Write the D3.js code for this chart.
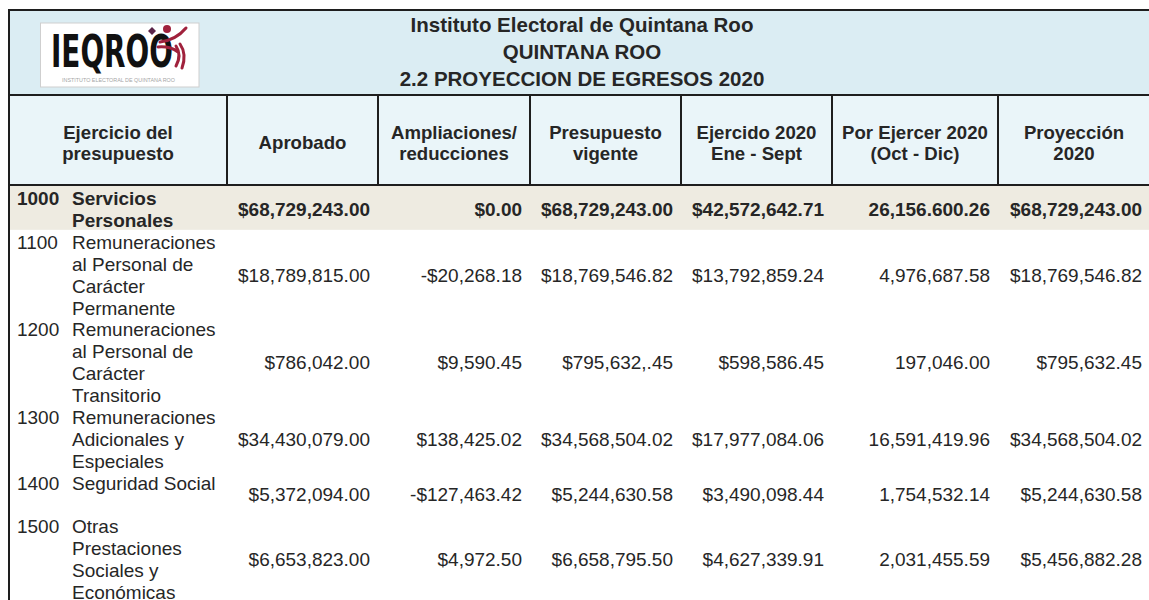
<!DOCTYPE html>
<html>
<head>
<meta charset="utf-8">
<script src="https://cdn.jsdelivr.net/npm/d3@7"></script>
<style>
  body { margin: 0; background: #fff; }
  svg { display: block; font-family: "Liberation Sans", Arial, sans-serif; }
</style>
</head>
<body>
<div id="chart"></div>
<script>
// table content
var titleLines = ["Instituto Electoral de Quintana Roo", "QUINTANA ROO", "2.2 PROYECCION DE EGRESOS 2020"];
var headers = [["Ejercicio del", "presupuesto"], ["Aprobado"], ["Ampliaciones/", "reducciones"],
  ["Presupuesto", "vigente"], ["Ejercido 2020", "Ene - Sept"], ["Por Ejercer 2020", "(Oct - Dic)"], ["Proyección", "2020"]];
var codes = ["1000", "1100", "1200", "1300", "1400", "1500"];
var conceptos = [
  ["Servicios", "Personales"],
  ["Remuneraciones", "al Personal de", "Carácter", "Permanente"],
  ["Remuneraciones", "al Personal de", "Carácter", "Transitorio"],
  ["Remuneraciones", "Adicionales y", "Especiales"],
  ["Seguridad Social", ""],
  ["Otras", "Prestaciones", "Sociales y", "Económicas"]
];
var aprobado = ["$68,729,243.00", "$18,789,815.00", "$786,042.00", "$34,430,079.00", "$5,372,094.00", "$6,653,823.00"];
var ampliaciones = ["$0.00", "-$20,268.18", "$9,590.45", "$138,425.02", "-$127,463.42", "$4,972.50"];
var vigente = ["$68,729,243.00", "$18,769,546.82", "$795,632,.45", "$34,568,504.02", "$5,244,630.58", "$6,658,795.50"];
var ejercido = ["$42,572,642.71", "$13,792,859.24", "$598,586.45", "$17,977,084.06", "$3,490,098.44", "$4,627,339.91"];
var porEjercer = ["26,156.600.26", "4,976,687.58", "197,046.00", "16,591,419.96", "1,754,532.14", "2,031,455.59"];
var proyeccion = ["$68,729,243.00", "$18,769,546.82", "$795,632.45", "$34,568,504.02", "$5,244,630.58", "$5,456,882.28"];

var valueCols = [aprobado, ampliaciones, vigente, ejercido, porEjercer, proyeccion];

// layout
var W = 1149, H = 600;
var colEdges = [9, 227, 378, 530, 681, 832, 998, 1150];
var textColor = "#262626", lineColor = "#1e1e1e";
var fs = 17.5, sx = 1.086;   // body text is a bit wide / flat in the source

var svg = d3.select("#chart").append("svg")
  .attr("width", W).attr("height", H);

function place(x, y0) { return "translate(" + x + "," + y0 + ") scale(" + sx + ",1)"; }

// bands
svg.append("rect").attr("x", 9).attr("y", 10).attr("width", W).attr("height", 85).attr("fill", "#dbedf3");
svg.append("rect").attr("x", 9).attr("y", 95).attr("width", W).attr("height", 90).attr("fill", "#eaf5f9");

// rows: cumulative line index
var starts = [], acc = 0;
conceptos.forEach(function(c) { starts.push(acc); acc += c.length; });
var y = d3.scaleLinear().domain([0, 18]).range([199, 593]);

svg.append("rect").attr("x", 9).attr("y", 185).attr("width", W)
  .attr("height", y(1.5) - 2 - 185).attr("fill", "#eeebe1");

// title
var yTitle = d3.scaleLinear().domain([0, 2]).range([24.5, 79]);
svg.selectAll(".title").data(titleLines).enter().append("text")
  .attr("x", 582).attr("y", function(d, i) { return yTitle(i); })
  .attr("dy", "0.35em").attr("text-anchor", "middle")
  .attr("font-size", 20.5).attr("font-weight", "bold").attr("fill", textColor)
  .text(function(d) { return d; });

// header
headers.forEach(function(h, c) {
  var cx = (colEdges[c] + colEdges[c + 1]) / 2;
  svg.append("g").selectAll("text").data(h).enter().append("text")
    .attr("x", cx)
    .attr("y", function(d, i) { return 142.5 + (i - (h.length - 1) / 2) * 21; })
    .attr("dy", "0.35em").attr("text-anchor", "middle")
    .attr("font-size", 18.6).attr("font-weight", "bold").attr("fill", textColor)
    .text(function(d) { return d; });
});

// body rows
var rows = svg.selectAll(".row").data(codes).enter().append("g").attr("class", "row")
  .attr("font-size", fs).attr("fill", textColor)
  .attr("font-weight", function(d, i) { return i === 0 ? "bold" : "normal"; });

rows.append("text").attr("transform", function(d, i) { return place(17, y(starts[i])); })
  .attr("dy", "0.35em").text(function(d) { return d; });

rows.each(function(d, i) {
  var g = d3.select(this);
  g.selectAll(".desc").data(conceptos[i]).enter().append("text")
    .attr("transform", function(t, k) { return place(72, y(starts[i] + k)); })
    .attr("dy", "0.35em").text(function(t) { return t; });
  var mid = y(starts[i] + (conceptos[i].length - 1) / 2);
  g.selectAll(".val").data(valueCols).enter().append("text")
    .attr("transform", function(col, c) { return place(colEdges[c + 2] - 8, mid); })
    .attr("dy", "0.35em").attr("text-anchor", "end")
    .text(function(col) { return col[i]; });
});

// lines
function hline(y0) {
  svg.append("line").attr("x1", 8).attr("x2", W).attr("y1", y0).attr("y2", y0)
    .attr("stroke", lineColor).attr("stroke-width", 2);
}
hline(10); hline(95); hline(185);
svg.append("line").attr("x1", 9).attr("x2", 9).attr("y1", 9).attr("y2", H)
  .attr("stroke", lineColor).attr("stroke-width", 2);
svg.selectAll(".vdiv").data(colEdges.slice(1, 7)).enter().append("line")
  .attr("x1", function(d) { return d; }).attr("x2", function(d) { return d; })
  .attr("y1", 95).attr("y2", 185).attr("stroke", lineColor).attr("stroke-width", 2);

// logo
var logo = svg.append("g");
logo.append("rect").attr("x", 40.5).attr("y", 23).attr("width", 158.5).attr("height", 64)
  .attr("fill", "#fff").attr("stroke", "#cfcfcf").attr("stroke-width", 1);
logo.append("text").attr("x", 51).attr("y", 67).attr("font-family", "'Liberation Sans Narrow', 'DejaVu Sans Condensed', sans-serif")
  .attr("font-weight", "bold").attr("font-size", 44).attr("fill", "#111")
  .attr("textLength", 122).attr("lengthAdjust", "spacingAndGlyphs").text("IEQROO");
logo.append("path").attr("d", "M160,42 Q176,40 186,28 M158,47 Q170,46 178,52 M176,46 Q182,55 176,66 M180,44 Q187,54 182,68")
  .attr("fill", "none").attr("stroke", "#a0213c").attr("stroke-width", 3).attr("stroke-linecap", "round");
logo.append("circle").attr("cx", 167).attr("cy", 29).attr("r", 4).attr("fill", "#a0213c");
logo.append("path").attr("d", "M152,27 L156,31 L152,35 L148,31 Z").attr("fill", "#5a2448");
logo.append("text").attr("x", 62).attr("y", 82).attr("font-size", 4.5).attr("fill", "#a5a5a5")
  .attr("textLength", 113).attr("lengthAdjust", "spacingAndGlyphs")
  .text("INSTITUTO ELECTORAL DE QUINTANA ROO");
</script>
</body>
</html>
